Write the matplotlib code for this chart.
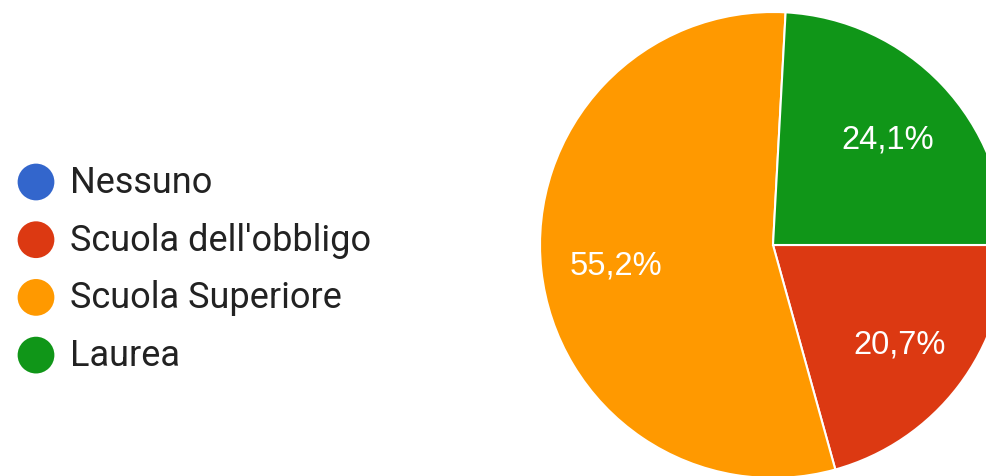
import matplotlib.pyplot as plt

# Survey answers (counts out of 29)
categories = ["Nessuno", "Scuola dell'obbligo", "Scuola Superiore", "Laurea"]
counts = [0, 6, 16, 7]
colors = ["#3366cc", "#dc3912", "#ff9900", "#109618"]

plt.rcParams['font.family'] = ['Roboto', 'DejaVu Sans']

W, H = 986, 476
fig = plt.figure(figsize=(W / 100, H / 100), dpi=100)

# Pie: center (773, 245) px, radius 233 px
cx, cy, r = 773, 245, 233
ax = fig.add_axes([(cx - r) / W, (H - cy - r) / H, 2 * r / W, 2 * r / H])


def fmt(p):
    return f"{p:.1f}%".replace('.', ',') if p > 0 else ''


wedges, texts, autotexts = ax.pie(
    counts, colors=colors, startangle=0, counterclock=False,
    autopct=fmt, pctdistance=0.68,
    wedgeprops=dict(edgecolor='white', linewidth=1.5),
    textprops=dict(color='white', fontsize=23.5,
                   family=['Liberation Sans', 'DejaVu Sans']),
)
# nudge labels down a few pixels
for t in autotexts:
    x, y = t.get_position()
    t.set_position((x, y - 0.018))

ax.set_xlim(-1, 1)
ax.set_ylim(-1, 1)
ax.set_aspect('equal')
ax.axis('off')

# Legend on the left
lax = fig.add_axes([0, 0, 1, 1])
lax.set_xlim(0, W)
lax.set_ylim(H, 0)
lax.axis('off')
for i, (name, c) in enumerate(zip(categories, colors)):
    y = 182 + i * 57.7
    lax.scatter(36, y, s=700, color=c, edgecolors='none')
    lax.text(70, y + 1, name, fontsize=26, color='#222222', va='center', ha='left')

fig.savefig("out.png", dpi=100)
